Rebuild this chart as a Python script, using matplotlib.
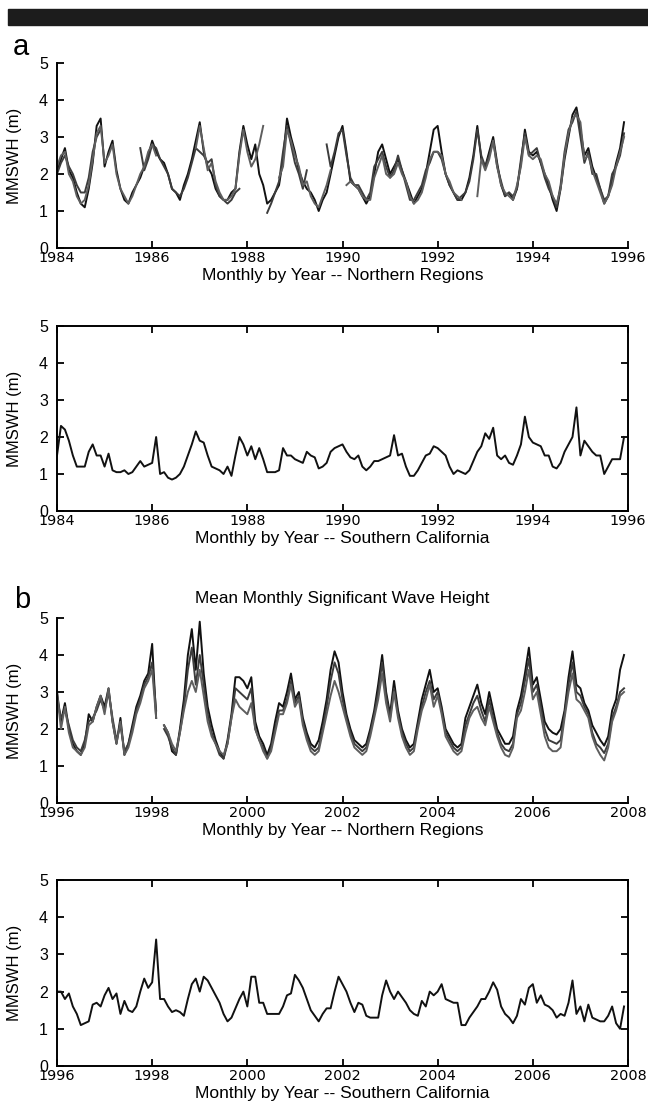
import numpy as np
import matplotlib
matplotlib.use("Agg")
import matplotlib.pyplot as plt
from matplotlib.patches import Rectangle

nan = np.nan

# ---------------- data (monthly mean significant wave height, m) ----------------
years_a = [1984, 1996]
years_b = [1996, 2008]

north_a1 = [
    2.1, 2.4, 2.7, 2.1, 1.9, 1.5, 1.2, 1.1, 1.6, 2.3, 3.3, 3.5,   # 1984
    2.2, 2.6, 2.9, 2.1, 1.6, 1.3, 1.2, 1.5, 1.7, 1.9, 2.2, 2.5,   # 1985
    2.9, 2.6, 2.4, 2.3, 2.0, 1.6, 1.5, 1.3, 1.7, 2.0, 2.4, 2.9,   # 1986
    3.4, 2.6, 2.2, 2.0, 1.6, 1.4, 1.3, 1.3, 1.5, 1.6, 2.6, 3.3,   # 1987
    2.8, 2.4, 2.8, 2.0, 1.7, 1.2, 1.3, 1.5, 1.7, 2.4, 3.5, 3.0,   # 1988
    2.6, 2.1, 1.8, 1.6, 1.5, 1.3, 1.0, 1.3, 1.5, 2.0, 2.5, 3.0,   # 1989
    3.3, 2.6, 1.8, 1.7, 1.6, 1.4, 1.2, 1.4, 2.0, 2.6, 2.8, 2.4,   # 1990
    2.0, 2.2, 2.4, 2.1, 1.8, 1.5, 1.2, 1.4, 1.6, 2.0, 2.6, 3.2,   # 1991
    3.3, 2.6, 2.0, 1.7, 1.5, 1.3, 1.3, 1.5, 1.9, 2.5, 3.3, 2.4,   # 1992
    2.2, 2.6, 3.0, 2.3, 1.7, 1.4, 1.5, 1.3, 1.6, 2.3, 3.2, 2.6,   # 1993
    2.5, 2.6, 2.3, 2.0, 1.7, 1.3, 1.0, 1.6, 2.4, 3.0, 3.6, 3.8,   # 1994
    3.2, 2.5, 2.7, 2.2, 1.9, 1.6, 1.2, 1.4, 1.8, 2.3, 2.7, 3.4,   # 1995
]
north_a2 = [
    2.0, 2.3, 2.5, 2.2, 2.0, 1.7, 1.5, 1.5, 1.9, 2.6, 3.0, 3.2,
    nan, nan, nan, nan, nan, nan, nan, nan, nan, 2.7, 2.1, 2.4,
    2.8, 2.7, 2.4, 2.2, 2.0, 1.6, 1.5, 1.4, 1.6, 1.9, 2.3, 2.7,
    2.6, 2.5, 2.3, 2.4, 1.7, 1.4, 1.3, 1.2, 1.3, 1.5, 1.6, nan,
    nan, nan, nan, nan, nan, 0.95, 1.2, 1.5, 1.8, 2.6, 3.3, 2.8,
    2.3, 2.0, 1.6, 2.1, nan, nan, nan, nan, 2.8, 2.2, 2.6, 3.1,
    3.2, 2.5, 1.9, 1.7, 1.7, 1.5, 1.3, 1.5, 2.2, 2.4, 2.6, 2.2,
    1.9, 2.1, 2.5, 2.1, 1.7, 1.3, 1.3, 1.5, 1.7, 2.1, 2.3, 2.6,
    2.6, 2.4, 2.0, 1.7, 1.5, 1.3, 1.4, 1.5, 1.8, 2.4, 3.2, 2.5,
    2.2, 2.5, 2.9, 2.2, 1.8, 1.4, 1.5, 1.4, 1.6, 2.4, 3.1, 2.5,
    2.6, 2.7, 2.3, 1.9, 1.6, 1.4, 1.1, 1.7, 2.6, 3.2, 3.4, 3.7,
    3.0, 2.3, 2.6, 2.0, 2.0, 1.6, 1.3, 1.4, 2.0, 2.2, 2.5, 3.1,
]
north_a3 = [
    2.2, 2.5, 2.6, 2.0, 1.8, 1.4, 1.2, 1.3, 1.7, 2.4, 3.1, 3.3,
    2.3, 2.5, 2.8, 2.0, 1.6, 1.4, 1.2, 1.4, 1.7, 2.0, 2.2, 2.6,
    2.8, 2.5, nan, nan, nan, nan, nan, nan, nan, nan, nan, 2.7,
    3.3, 2.7, 2.1, 2.3, 1.8, 1.5, 1.3, 1.3, 1.4, 1.6, 2.5, 3.2,
    2.6, 2.2, 2.4, 2.8, 3.3, nan, nan, nan, 1.9, 2.2, 3.2, 2.9,
    2.5, 2.2, 1.7, 1.8, 1.4, 1.2, 1.1, 1.4, 1.7, 2.1, nan, nan,
    nan, 1.7, 1.8, 1.7, 1.6, 1.4, 1.3, 1.3, 1.9, 2.2, 2.5, 2.0,
    1.9, 2.0, 2.3, 2.0, 1.8, 1.4, 1.2, 1.3, 1.5, 1.9, 2.4, 2.6,
    2.6, 2.5, 2.0, 1.8, 1.5, 1.4, 1.3, nan, nan, nan, 1.4, 2.4,
    2.1, 2.4, 2.9, 2.2, 1.7, 1.5, 1.4, 1.3, 1.7, 2.2, 3.0, 2.5,
    2.4, 2.5, 2.4, 2.0, 1.8, 1.4, 1.2, 1.6, 2.5, 3.1, 3.5, 3.6,
    3.4, 2.4, 2.5, 2.1, 1.8, 1.5, 1.2, 1.4, 1.7, 2.2, 2.6, 3.0,
]
south_a = [
    1.5, 2.3, 2.2, 1.9, 1.5, 1.2, 1.2, 1.2, 1.6, 1.8, 1.5, 1.5,
    1.2, 1.55, 1.1, 1.05, 1.05, 1.1, 1.0, 1.05, 1.2, 1.35, 1.2, 1.25,
    1.3, 2.0, 1.0, 1.05, 0.9, 0.85, 0.9, 1.0, 1.2, 1.5, 1.8, 2.15,
    1.9, 1.85, 1.5, 1.2, 1.15, 1.1, 1.0, 1.2, 0.95, 1.5, 2.0, 1.8,
    1.5, 1.75, 1.4, 1.7, 1.4, 1.05, 1.05, 1.05, 1.1, 1.7, 1.5, 1.5,
    1.4, 1.35, 1.3, 1.6, 1.5, 1.45, 1.15, 1.2, 1.3, 1.6, 1.7, 1.75,
    1.8, 1.6, 1.45, 1.4, 1.5, 1.2, 1.1, 1.2, 1.35, 1.35, 1.4, 1.45,
    1.5, 2.05, 1.5, 1.55, 1.2, 0.95, 0.95, 1.1, 1.3, 1.5, 1.55, 1.75,
    1.7, 1.6, 1.5, 1.2, 1.0, 1.1, 1.05, 1.0, 1.1, 1.35, 1.6, 1.75,
    2.1, 1.95, 2.25, 1.5, 1.4, 1.5, 1.3, 1.25, 1.5, 1.8, 2.55, 2.0,
    1.85, 1.8, 1.75, 1.5, 1.5, 1.2, 1.15, 1.3, 1.6, 1.8, 2.0, 2.8,
    1.5, 1.9, 1.75, 1.6, 1.5, 1.5, 1.0, 1.2, 1.4, 1.4, 1.4, 2.0,
]

north_b1 = [
    3.0, 2.2, 2.7, 2.0, 1.6, 1.4, 1.3, 1.6, 2.4, 2.2, 2.6, 2.9,   # 1996
    2.6, 3.1, 2.2, 1.6, 2.3, 1.3, 1.6, 2.1, 2.6, 2.9, 3.3, 3.5,   # 1997
    4.3, 2.3, nan, 2.1, 1.9, 1.4, 1.3, 2.0, 2.8, 4.0, 4.7, 3.6,   # 1998
    4.9, 3.5, 2.6, 2.1, 1.7, 1.4, 1.2, 1.7, 2.4, 3.4, 3.4, 3.3,   # 1999
    3.1, 3.4, 2.2, 1.8, 1.6, 1.3, 1.6, 2.2, 2.7, 2.6, 3.0, 3.5,   # 2000
    2.8, 3.0, 2.3, 1.9, 1.6, 1.5, 1.7, 2.2, 2.8, 3.6, 4.1, 3.8,   # 2001
    3.0, 2.4, 2.0, 1.7, 1.6, 1.5, 1.6, 2.0, 2.5, 3.2, 4.0, 3.0,   # 2002
    2.4, 3.3, 2.5, 2.0, 1.7, 1.5, 1.6, 2.2, 2.8, 3.2, 3.6, 3.0,   # 2003
    3.1, 2.6, 2.0, 1.8, 1.6, 1.5, 1.6, 2.3, 2.6, 2.9, 3.2, 2.7,   # 2004
    2.4, 3.0, 2.5, 2.0, 1.8, 1.6, 1.6, 1.8, 2.5, 2.9, 3.5, 4.2,   # 2005
    3.2, 3.4, 2.8, 2.2, 2.0, 1.9, 1.85, 2.0, 2.5, 3.4, 4.1, 3.2,  # 2006
    3.1, 2.7, 2.5, 2.1, 1.9, 1.7, 1.55, 1.8, 2.5, 2.8, 3.6, 4.0,  # 2007
]
north_b2 = [
    2.8, 2.3, 2.5, 2.1, 1.7, 1.5, 1.4, 1.7, 2.2, 2.3, 2.5, 2.8,
    2.5, 3.0, 2.3, 1.7, 2.1, 1.4, 1.6, 2.0, 2.5, 2.8, 3.2, 3.4,
    3.8, 2.5, nan, 2.0, 1.8, 1.5, 1.3, 1.9, 2.6, 3.6, 4.2, 3.2,
    4.0, 3.2, 2.4, 1.9, 1.6, 1.3, 1.2, 1.6, 2.3, 3.1, 3.0, 2.9,
    2.8, 3.1, 2.0, 1.7, 1.5, 1.2, 1.5, 2.0, 2.5, 2.5, 2.8, 3.3,
    2.7, 2.9, 2.2, 1.8, 1.5, 1.4, 1.5, 2.0, 2.6, 3.3, 3.8, 3.5,
    2.8, 2.3, 1.9, 1.6, 1.5, 1.4, 1.5, 1.9, 2.4, 3.0, 3.8, 2.9,
    2.3, 3.1, 2.4, 1.9, 1.6, 1.4, 1.5, 2.1, 2.6, 3.0, 3.3, 2.8,
    3.0, 2.5, 1.9, 1.7, 1.5, 1.4, 1.5, 2.1, 2.4, 2.7, 2.9, 2.5,
    2.2, 2.8, 2.3, 1.9, 1.6, 1.45, 1.4, 1.6, 2.4, 2.7, 3.3, 3.9,
    3.0, 3.2, 2.6, 2.0, 1.7, 1.65, 1.6, 1.7, 2.4, 3.2, 3.8, 3.0,
    2.9, 2.6, 2.4, 1.9, 1.6, 1.5, 1.35, 1.6, 2.3, 2.6, 3.0, 3.1,
]
north_b3 = [
    3.0, 2.0, 2.6, 1.9, 1.5, 1.4, 1.3, 1.5, 2.1, 2.2, 2.6, 2.9,
    2.4, 3.1, 2.2, 1.6, 2.2, 1.3, 1.5, 1.9, 2.4, 2.7, 3.1, 3.3,
    3.6, 2.3, nan, 2.1, 1.9, 1.6, 1.4, 1.9, 2.5, 3.0, 3.3, 3.0,
    3.6, 2.9, 2.2, 1.8, 1.6, 1.4, 1.3, 1.6, 2.3, 2.8, 2.6, 2.5,
    2.4, 2.7, 2.0, 1.7, 1.4, 1.2, 1.4, 1.9, 2.4, 2.4, 2.7, 3.2,
    2.6, 2.8, 2.1, 1.7, 1.4, 1.3, 1.4, 1.9, 2.4, 2.9, 3.3, 3.0,
    2.6, 2.2, 1.8, 1.5, 1.4, 1.3, 1.4, 1.8, 2.3, 2.8, 3.5, 2.7,
    2.2, 3.0, 2.3, 1.8, 1.5, 1.3, 1.4, 2.0, 2.5, 2.8, 3.2, 2.6,
    2.9, 2.4, 1.8, 1.6, 1.4, 1.3, 1.4, 1.9, 2.3, 2.5, 2.6, 2.3,
    2.1, 2.6, 2.2, 1.8, 1.5, 1.3, 1.25, 1.5, 2.3, 2.5, 3.0, 3.6,
    2.8, 3.0, 2.4, 1.8, 1.5, 1.4, 1.4, 1.5, 2.3, 3.0, 3.5, 2.8,
    2.7, 2.5, 2.3, 1.8, 1.5, 1.3, 1.15, 1.5, 2.2, 2.5, 2.9, 3.0,
]
south_b = [
    2.0, 2.0, 1.8, 1.95, 1.6, 1.4, 1.1, 1.15, 1.2, 1.65, 1.7, 1.6,
    1.9, 2.1, 1.8, 1.95, 1.4, 1.75, 1.5, 1.45, 1.6, 2.0, 2.35, 2.1,
    2.25, 3.4, 1.8, 1.8, 1.6, 1.45, 1.5, 1.45, 1.35, 1.8, 2.2, 2.35,
    2.0, 2.4, 2.3, 2.1, 1.9, 1.7, 1.4, 1.2, 1.3, 1.55, 1.8, 2.0,
    1.6, 2.4, 2.4, 1.7, 1.7, 1.4, 1.4, 1.4, 1.4, 1.6, 1.9, 1.95,
    2.45, 2.3, 2.1, 1.8, 1.5, 1.35, 1.2, 1.4, 1.55, 1.55, 2.0, 2.4,
    2.2, 2.0, 1.7, 1.45, 1.7, 1.65, 1.35, 1.3, 1.3, 1.3, 1.9, 2.3,
    2.0, 1.8, 2.0, 1.85, 1.7, 1.5, 1.4, 1.35, 1.75, 1.6, 2.0, 1.9,
    2.0, 2.2, 1.8, 1.75, 1.7, 1.7, 1.1, 1.1, 1.3, 1.45, 1.6, 1.8,
    1.8, 2.0, 2.25, 2.05, 1.6, 1.4, 1.3, 1.15, 1.35, 1.8, 1.65, 2.1,
    2.2, 1.7, 1.9, 1.65, 1.6, 1.5, 1.3, 1.4, 1.35, 1.7, 2.3, 1.4,
    1.6, 1.2, 1.65, 1.3, 1.25, 1.2, 1.2, 1.35, 1.6, 1.15, 1.0, 1.6,
]

y_ticks = [0, 1, 2, 3, 4, 5]
ylab = "MMSWH (m)"
xlab_north = "Monthly by Year -- Northern Regions"
xlab_south = "Monthly by Year -- Southern California"
title_b = "Mean Monthly Significant Wave Height"
line_colors = ["#111111", "#3c3c3c", "#5e5e5e"]

# ---------------- figure ----------------
plt.rcParams["font.family"] = ["Liberation Sans", "DejaVu Sans"]
W, H = 648, 1110
fig = plt.figure(figsize=(W / 100, H / 100), dpi=100)
fig.patches.append(Rectangle((8 / W, 1 - 25 / H), 1 - 8 / W, 16 / H,
                             transform=fig.transFigure, color="#1c1c1c", zorder=0))

left, right = 57, 628
def make_ax(top, bottom):
    return fig.add_axes([left / W, 1 - bottom / H, (right - left) / W, (bottom - top) / H])

def style(ax, span, boxed):
    ax.set_xlim(span[0], span[1])
    ax.set_ylim(0, 5)
    ax.set_xticks(np.arange(span[0], span[1] + 1, 2))
    ax.set_yticks(y_ticks)
    for s in ax.spines.values():
        s.set_linewidth(1.4)
    ax.spines["top"].set_visible(boxed)
    ax.spines["right"].set_visible(boxed)
    ax.tick_params(direction="in", length=5, width=1.3, top=boxed, right=boxed)
    ax.tick_params(axis="x", pad=2.5)
    ax.tick_params(axis="y", pad=6.5, labelsize=11.5)
    for lab in ax.get_xticklabels():
        lab.set_fontfamily("DejaVu Sans")
        lab.set_fontsize(10.4)
    ax.set_ylabel(ylab, fontsize=12)
    ax.yaxis.set_label_coords(-0.061, 0.5)

def months(span, n):
    return span[0] + np.arange(n) / 12.0

panels = [
    (63, 248, years_a, [north_a1, north_a2, north_a3], xlab_north, False),
    (326, 511, years_a, [south_a], xlab_south, True),
    (618, 803, years_b, [north_b1, north_b2, north_b3], xlab_north, False),
    (880, 1066, years_b, [south_b], xlab_south, True),
]
axes = []
for top, bottom, span, series, xl, boxed in panels:
    ax = make_ax(top, bottom)
    for i, s in enumerate(series):
        s = np.array(s, dtype=float)
        ax.plot(months(span, len(s)), s, color=line_colors[i], lw=1.4)
    style(ax, span, boxed)
    ax.set_xlabel(xl, fontsize=12.5, labelpad=1.5)
    axes.append(ax)

fig.text(13 / W, 1 - 47 / H, "a", fontsize=21, va="center", ha="left")
fig.text(14 / W, 1 - 600 / H, "b", fontsize=21, va="center", ha="left")
fig.text((left + right) / 2 / W, 1 - 598 / H, title_b, fontsize=12.3, ha="center", va="center")

fig.savefig("out.png", dpi=100)
